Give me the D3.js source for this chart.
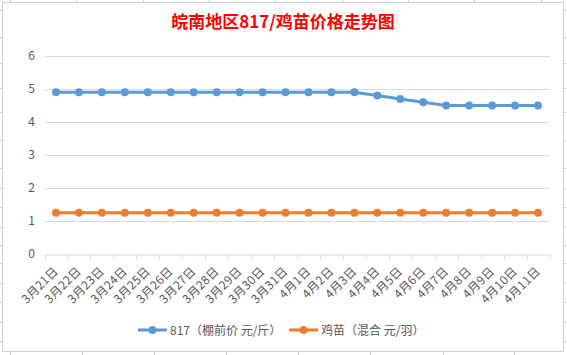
<!DOCTYPE html>
<html><head><meta charset="utf-8">
<script src="https://cdn.jsdelivr.net/npm/d3@7"></script>
<style>html,body{margin:0;padding:0;background:#fff;}svg{display:block;}</style>
</head><body>
<script>
const categories = ["3月21日","3月22日","3月23日","3月24日","3月25日","3月26日","3月27日","3月28日","3月29日","3月30日","3月31日","4月1日","4月2日","4月3日","4月4日","4月5日","4月6日","4月7日","4月8日","4月9日","4月10日","4月11日"];
const series817 = [4.9,4.9,4.9,4.9,4.9,4.9,4.9,4.9,4.9,4.9,4.9,4.9,4.9,4.9,4.8,4.7,4.6,4.5,4.5,4.5,4.5,4.5];
const seriesChick = [1.25,1.25,1.25,1.25,1.25,1.25,1.25,1.25,1.25,1.25,1.25,1.25,1.25,1.25,1.25,1.25,1.25,1.25,1.25,1.25,1.25,1.25];
const yTicks = [0,1,2,3,4,5,6];
const seriesNames = ["817（棚前价 元/斤）","鸡苗（混合 元/羽）"];
const title = "皖南地区817/鸡苗价格走势图";

const W = 567, H = 355;
const svg = d3.select("body").append("svg").attr("width", W).attr("height", H);
const gridCol = "#d9d9d9", textCol = "#595959";
const font = "'Noto Sans CJK SC','Noto Sans',sans-serif";

// spreadsheet background decoration
const deco = svg.append("g").attr("stroke", "#d0d0d0").attr("stroke-width", 1);
[10,76,143,209,275,342,408,474,541].forEach(x => deco.append("line").attr("x1",x+0.5).attr("x2",x+0.5).attr("y1",0).attr("y2",2));
[10,82,154,226,298,370,443,514].forEach(x => deco.append("line").attr("x1",x+0.5).attr("x2",x+0.5).attr("y1",352).attr("y2",355));
[10,37,63,88,112,140,168,188,207,227,245,263,283,302,322,341].forEach(y => {
  deco.append("line").attr("x1",0).attr("x2",2).attr("y1",y+0.5).attr("y2",y+0.5);
  deco.append("line").attr("x1",564).attr("x2",567).attr("y1",y+0.5).attr("y2",y+0.5);
});
svg.append("rect").attr("x",2.5).attr("y",2.5).attr("width",561).attr("height",349)
  .attr("fill","#fff").attr("stroke","#d0d0d0").attr("stroke-width",1);

// title
svg.append("text").attr("x", 283).attr("y", 28).attr("text-anchor","middle")
  .attr("font-family", font).attr("font-weight","bold").attr("font-size", 17)
  .attr("fill","#ff0000").text(title);

const x = d3.scaleBand().domain(categories).range([44.5, 549.5]);
const y = d3.scaleLinear().domain([0,6]).range([254, 56]);

// gridlines
svg.append("g").selectAll("line").data(yTicks.filter(d=>d>0)).join("line")
  .attr("x1", 44.5).attr("x2", 549.5)
  .attr("y1", d => Math.round(y(d))+0.5).attr("y2", d => Math.round(y(d))+0.5)
  .attr("stroke", gridCol).attr("stroke-width", 1);

// y axis labels
svg.append("g").selectAll("text").data(yTicks).join("text")
  .attr("x", 35).attr("y", d => y(d)+4).attr("text-anchor","end")
  .attr("font-family", font).attr("font-size", 12).attr("fill", textCol).text(d => d);

// x axis
const xAxis = svg.append("g").attr("transform", `translate(0,${Math.round(y(0))+0.5})`)
  .call(d3.axisBottom(x).tickSize(0).tickFormat(""));
xAxis.select(".domain").attr("stroke", gridCol);
const bounds = categories.map(c => x(c)).concat([x(categories[categories.length-1]) + x.bandwidth()]);
xAxis.selectAll(".sep").data(bounds).join("line").attr("class","sep")
  .attr("x1", d => Math.round(d)+0.5).attr("x2", d => Math.round(d)+0.5)
  .attr("y1", 0).attr("y2", 5).attr("stroke", gridCol);

svg.append("g").selectAll("text").data(categories).join("text")
  .attr("transform", d => `translate(${x(d)+x.bandwidth()/2+3},${272}) rotate(-45)`)
  .attr("text-anchor","end")
  .attr("font-family", font).attr("font-size", 12).attr("letter-spacing", 0.3)
  .attr("fill", textCol).text(d => d);

// lines
const colors = ["#5b9bd5","#ed7d31"];
const allSeries = [series817, seriesChick];
const line = d3.line().x((d,i) => x(categories[i]) + x.bandwidth()/2).y(d => y(d));
allSeries.forEach((s, k) => {
  svg.append("path").datum(s).attr("d", line).attr("fill","none")
    .attr("stroke", colors[k]).attr("stroke-width", 3).attr("stroke-linejoin","round");
  svg.append("g").selectAll("circle").data(s).join("circle")
    .attr("cx", (d,i) => x(categories[i]) + x.bandwidth()/2).attr("cy", d => y(d))
    .attr("r", 4).attr("fill", colors[k]);
});

// legend
const legX = [138, 289];
seriesNames.forEach((n, k) => {
  const g = svg.append("g").attr("transform", `translate(${legX[k]},330)`);
  g.append("line").attr("x1",0).attr("x2",29).attr("y1",0).attr("y2",0).attr("stroke",colors[k]).attr("stroke-width",3);
  g.append("circle").attr("cx",14.5).attr("cy",0).attr("r",4).attr("fill",colors[k]);
  g.append("text").attr("x",32).attr("y",4.5).attr("font-family",font).attr("font-size",12)
    .attr("fill",textCol).text(n);
});
</script>
</body></html>
